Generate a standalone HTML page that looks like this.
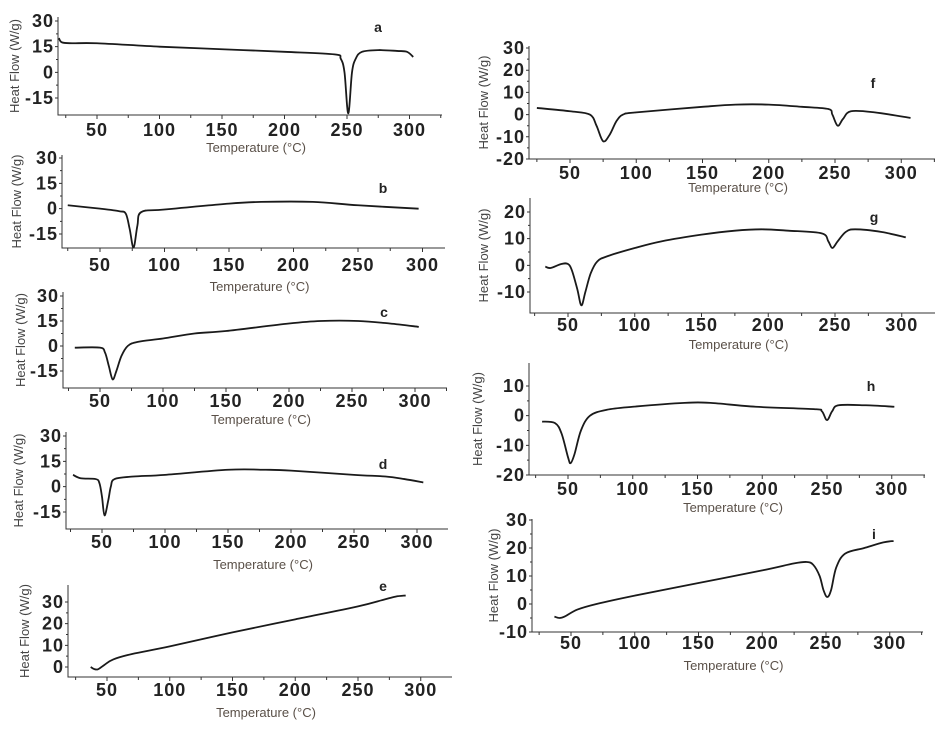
<!DOCTYPE html>
<html><head><meta charset="utf-8"><style>
html,body{margin:0;padding:0;background:#fff;}
svg{display:block;}
.tick{font-family:"Liberation Sans",sans-serif;font-weight:bold;font-size:18px;fill:#222;letter-spacing:1px;}
.xt{font-family:"Liberation Sans",sans-serif;font-size:13px;fill:#5a5048;}
.yt{font-family:"Liberation Sans",sans-serif;font-size:13px;fill:#444;}
.lbl{font-family:"Liberation Sans",sans-serif;font-weight:bold;font-size:14px;fill:#222;}
</style></head><body>
<svg id="fig" width="945" height="741" viewBox="0 0 945 741" xmlns="http://www.w3.org/2000/svg"></svg>
<script>
// Data arrays: [temperature °C, heat flow W/g]
const seriesA = [[19.5,20],[22,17.5],[30,17],[50,17],[100,15],[150,13.5],[200,12],[240,10.5],[245,8],[248,0],[251,-24],[254,0],[257,8],[262,12],[275,13],[290,12.5],[298,12],[303,9]];
const seriesB = [[25,2],[50,0],[65,-1.5],[70,-3],[73,-12],[76,-23],[79,-10],[82,-2],[100,-0.5],[150,3],[175,4],[215,4],[250,2],[297,0]];
const seriesC = [[30,-1],[50,-1],[54,-4],[57,-12],[60,-20],[63,-15],[67,-6],[72,0],[80,2.5],[100,4.5],[125,7.5],[150,9],[200,13.5],[225,15],[255,15],[280,13.5],[303,11.5]];
const seriesD = [[27,7],[33,5],[45,4.5],[48,2],[50,-6],[52,-17],[55,-8],[57,0],[60,4.5],[75,6],[100,7],[150,10],[180,10],[200,9.5],[250,7],[275,6],[290,4.5],[305,2.5]];
const seriesE = [[37,0],[40,-1],[43,-1],[48,1],[55,3.5],[70,6],[100,9.5],[150,16],[200,22],[250,28],[270,31],[280,32.5],[288,33]];
const seriesF = [[25,3],[50,1.5],[65,0],[70,-5],[75,-12],[80,-9],[85,-3],[90,0],[100,1],[150,3.5],[175,4.5],[200,4.5],[225,3.5],[245,2.5],[248,0],[252,-5],[256,-2],[262,1.5],[280,1],[307,-1.5]];
const seriesG = [[33,-0.5],[37,-1],[45,0.5],[50,0.5],[53,-2],[57,-9],[60,-15],[63,-10],[67,-3],[72,1.5],[80,3.5],[100,6.5],[120,9],[150,11.5],[175,13],[195,13.5],[215,13],[240,12],[245,9],[248,6.5],[252,9],[258,12.5],[265,13.5],[285,12.5],[303,10.5]];
const seriesH = [[30,-2],[40,-2.5],[45,-6],[50,-14],[52,-16],[55,-13],[60,-5],[67,0],[80,2],[100,3],[140,4.3],[160,4.3],[195,3],[240,2.2],[246,1.5],[250,-1.5],[254,1.5],[259,3.5],[280,3.5],[302,3]];
const seriesI = [[37,-4.5],[41,-5],[45,-4.5],[55,-2],[70,0],[100,3],[150,7.5],[200,12],[225,14.5],[235,15],[240,14],[245,10],[248,5],[251,2.5],[254,5],[258,13],[265,18],[280,20],[295,22],[303,22.5]];
const xTickLabels = [50,100,150,200,250,300];
const yTicks15 = [30,15,0,-15];
const yTicksE = [0,10,20,30];
const yTicksF = [30,20,10,0,-10,-20];
const yTicksG = [20,10,0,-10];
const yTicksH = [10,0,-10,-20];
const yTicksI = [30,20,10,0,-10];
const panelLetters = ['a','b','c','d','e','f','g','h','i'];

// layout (pixel geometry)
const panels = [
 {id:'a',data:seriesA,yt:yTicks15,L:58,R:442,T:17,B:115,x50:97,x250:347,v1:30,p1:21,v2:-15,p2:98,tl:130,tt:148,lx:378,ly:27,yx:14},
 {id:'b',data:seriesB,yt:yTicks15,L:62,R:445,T:155,B:248,x50:100,x250:358,v1:30,p1:158,v2:-15,p2:234,tl:265,tt:287,lx:383,ly:188,yx:16},
 {id:'c',data:seriesC,yt:yTicks15,L:63,R:447,T:292,B:388,x50:100,x250:352,v1:30,p1:296,v2:-15,p2:371,tl:401,tt:420,lx:384,ly:312,yx:20},
 {id:'d',data:seriesD,yt:yTicks15,L:66,R:448,T:432,B:529,x50:102,x250:354,v1:30,p1:436,v2:-15,p2:512,tl:542,tt:565,lx:383,ly:464,yx:18},
 {id:'e',data:seriesE,yt:yTicksE,L:68,R:452,T:585,B:677,x50:107,x250:358,v1:30,p1:602,v2:0,p2:667,tl:690,tt:713,lx:383,ly:586,yx:24},
 {id:'f',data:seriesF,yt:yTicksF,L:529,R:935,T:46,B:159,x50:570,x250:835,v1:30,p1:48,v2:-20,p2:159,tl:173,tt:188,lx:873,ly:83,yx:483},
 {id:'g',data:seriesG,yt:yTicksG,L:530,R:935,T:198,B:313,x50:568,x250:835,v1:20,p1:212,v2:-10,p2:292,tl:325,tt:345,lx:874,ly:217,yx:483},
 {id:'h',data:seriesH,yt:yTicksH,L:529,R:925,T:363,B:475,x50:568,x250:827,v1:10,p1:386,v2:-20,p2:475,tl:489,tt:508,lx:871,ly:386,yx:477},
 {id:'i',data:seriesI,yt:yTicksI,L:532,R:923,T:519,B:632,x50:571,x250:826,v1:30,p1:520,v2:-10,p2:632,tl:643,tt:666,lx:874,ly:534,yx:493}
];
const NS='http://www.w3.org/2000/svg';
const svg=document.getElementById('fig');
function mk(tag,attrs,parent){const e=document.createElementNS(NS,tag);for(const k in attrs)e.setAttribute(k,attrs[k]);parent.appendChild(e);return e;}
panels.forEach((p,idx)=>{
  const g=mk('g',{},svg);
  
  
  const xs=t=>p.x50+(t-50)*(p.x250-p.x50)/200;
  const ys=v=>p.p1+(v-p.v1)*(p.p2-p.p1)/(p.v2-p.v1);
  const ax=mk('path',{d:`M${p.L},${p.T}V${p.B}H${p.R}`,stroke:'#333','stroke-width':1,fill:'none'},g);
  
  
  let td='';
  for(let t=25;t<=325;t+=25){const x=xs(t);if(x>p.L+1&&x<p.R)td+=`M${x},${p.B}v${t%50===0?4:3}`;}
  p.yt.forEach(v=>{td+=`M${p.L},${ys(v)}h-3`;});
  for(let k=0;k<p.yt.length-1;k++){td+=`M${p.L},${(ys(p.yt[k])+ys(p.yt[k+1]))/2}h-2`;}
  const tk=mk('path',{d:td,stroke:'#333','stroke-width':1,fill:'none'},g);
  
  
  xTickLabels.forEach(t=>{
    const e=mk('text',{x:xs(t),y:p.tl+6,'text-anchor':'middle',class:'tick'},g);
    e.textContent=t;
    
    
  });
  p.yt.forEach(v=>{
    const e=mk('text',{x:p.L-4,y:ys(v)+6,'text-anchor':'end',class:'tick'},g);
    e.textContent=v;
    
    
  });
  const xt=mk('text',{x:(p.L+p.R)/2+6,y:p.tt+4,'text-anchor':'middle',class:'xt'},g);
  xt.textContent='Temperature (°C)';
  
  
  const cy=(p.T+p.B)/2;
  const yt=mk('text',{x:p.yx,y:cy,'text-anchor':'middle',class:'yt',transform:`rotate(-90 ${p.yx} ${cy}) translate(0 5)`},g);
  yt.textContent='Heat Flow (W/g)';
  
  
  const lb=mk('text',{x:p.lx,y:p.ly+5,'text-anchor':'middle',class:'lbl'},g);
  lb.textContent=panelLetters[idx];
  
  
  const pts=p.data.map(d=>[xs(d[0]),ys(d[1])]);
  let d=`M${pts[0][0]},${pts[0][1]}`;
  for(let k=0;k<pts.length-1;k++){
    const p0=pts[Math.max(0,k-1)],p1=pts[k],p2=pts[k+1],p3=pts[Math.min(pts.length-1,k+2)];
    const c1=[p1[0]+(p2[0]-p0[0])/6,p1[1]+(p2[1]-p0[1])/6];
    const c2=[p2[0]-(p3[0]-p1[0])/6,p2[1]-(p3[1]-p1[1])/6];
    d+=`C${c1[0]},${c1[1]} ${c2[0]},${c2[1]} ${p2[0]},${p2[1]}`;
  }
  const ln=mk('path',{d:d,stroke:'#1a1a1a','stroke-width':1.8,fill:'none','stroke-linejoin':'round'},g);
  
  
});
</script>
</body></html>
